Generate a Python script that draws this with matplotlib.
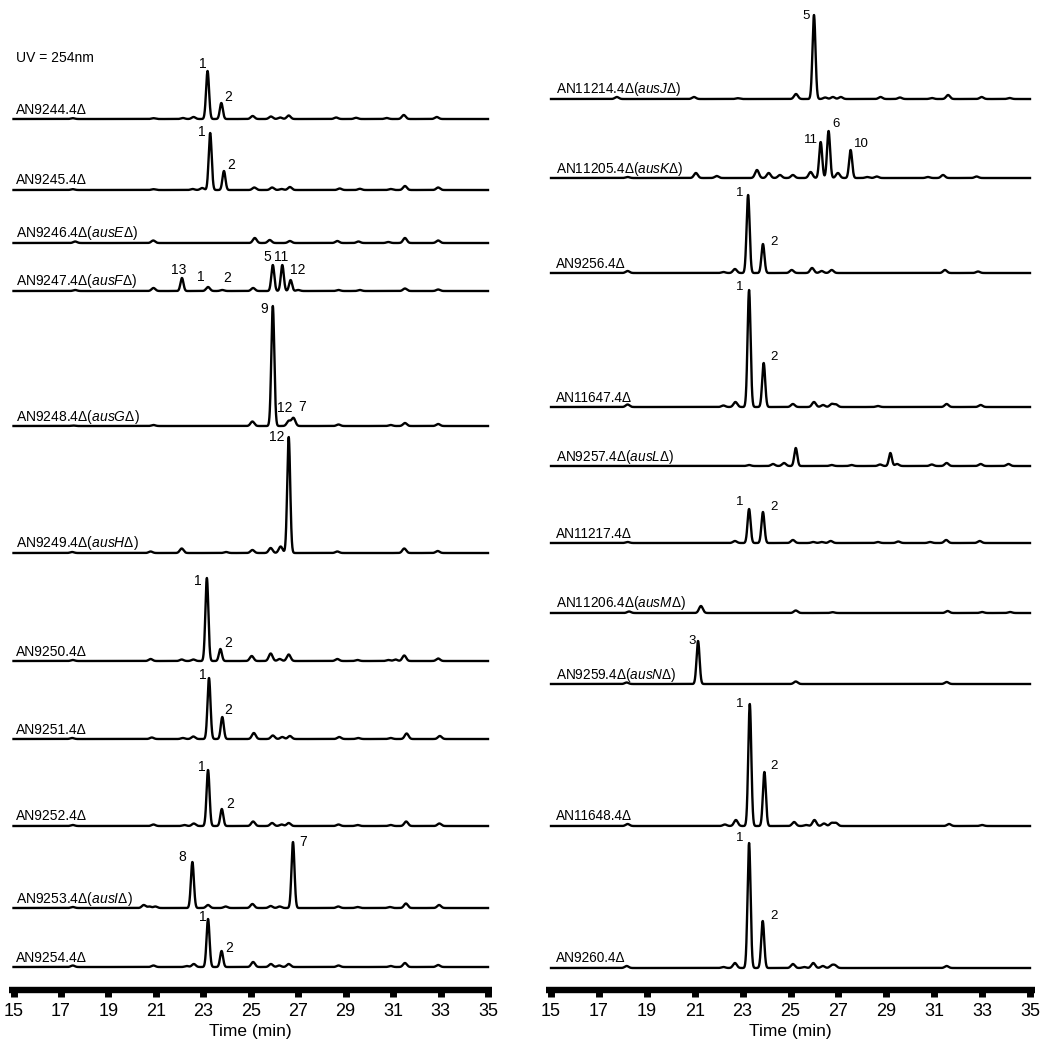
import numpy as np
import matplotlib
matplotlib.use("Agg")
import matplotlib.pyplot as plt

plt.rcParams['font.family'] = ['Liberation Sans', 'DejaVu Sans']
plt.rcParams['mathtext.fontset'] = 'custom'
plt.rcParams['mathtext.rm'] = 'Liberation Sans'
plt.rcParams['mathtext.it'] = 'Liberation Sans:italic'

# ---------------- data: (retention time [min], peak height [a.u.]) ----------------
tick_values = [15, 17, 19, 21, 23, 25, 27, 29, 31, 33, 35]
x_label = "Time (min)"
uv_label = "UV = 254nm"

# left panel
peaks_AN9244 = [(23.18, 48), (23.76, 16), (17.5, 0.8), (20.9, 0.8), (22.14, 1), (22.59, 2), (25.08, 3),
                (25.85, 2.5), (26.24, 1.5), (26.6, 3.5), (28.6, 1.5), (29.44, 1.2), (30.73, 1), (31.45, 4), (32.84, 2)]
peaks_AN9245 = [(23.29, 57), (23.87, 19), (17.5, 0.8), (20.9, 0.8), (22.55, 1), (22.95, 2), (25.15, 2.5),
                (25.9, 2.5), (26.3, 1), (26.65, 3), (28.75, 1.5), (29.6, 1.2), (30.9, 1), (31.5, 4), (32.9, 2.5)]
peaks_AN9246 = [(17.6, 1.5), (20.89, 2.5), (25.17, 5), (25.8, 3), (26.65, 2), (28.65, 2), (29.54, 1.5),
                (30.8, 1), (31.5, 5), (32.9, 2.5)]
peaks_AN9247 = [(22.1, 13), (23.2, 4), (23.8, 1), (25.93, 26), (26.33, 26), (26.68, 11), (17.6, 1), (20.9, 3),
                (25.1, 3), (27.0, 1), (28.7, 1), (29.6, 1), (31.5, 2.5), (32.9, 1.5)]
peaks_AN9248 = [(25.93, 120), (26.6, 5), (26.8, 8), (17.5, 0.5), (20.9, 1), (25.07, 4.5), (28.7, 1.5),
                (30.9, 1), (31.5, 3), (32.9, 2)]
peaks_AN9249 = [(26.6, 116), (17.47, 1), (20.78, 1.5), (22.09, 4.5), (23.96, 1), (25.07, 3), (25.84, 5),
                (26.26, 6.5), (28.65, 1.5), (31.47, 4.5), (32.88, 2)]
peaks_AN9250 = [(23.15, 83), (23.72, 12), (17.5, 1), (20.78, 2), (22.09, 1.5), (22.58, 1.5), (25.04, 5),
                (25.84, 7.5), (26.22, 2), (26.6, 6.5), (28.65, 2), (29.5, 1), (30.8, 1), (31.1, 1.5),
                (31.47, 5.5), (32.9, 2.5)]
peaks_AN9251 = [(23.24, 61), (23.8, 22), (17.47, 1), (20.83, 1.5), (22.14, 1), (22.58, 2.5), (25.13, 6),
                (25.93, 3.5), (26.33, 2), (26.65, 3), (28.73, 2), (29.53, 1), (30.9, 1), (31.57, 5.5), (32.97, 3)]
peaks_AN9252 = [(23.2, 56), (23.78, 17), (17.5, 1), (20.9, 1.5), (22.2, 1), (22.6, 2.5), (25.1, 4.5),
                (25.9, 3), (26.3, 1.5), (26.6, 3), (28.7, 1.5), (29.5, 1), (30.9, 1), (31.55, 4.5), (32.95, 2.5)]
peaks_AN9253 = [(22.54, 46), (26.78, 66), (17.5, 1), (20.49, 3), (20.73, 1.5), (20.98, 1.5), (23.2, 3),
                (23.94, 1.5), (25.07, 4), (25.84, 2), (26.22, 1.5), (28.69, 1.5), (29.5, 1), (30.86, 1),
                (31.54, 4.5), (32.94, 3)]
peaks_AN9254 = [(23.2, 48), (23.77, 16), (17.5, 1.5), (20.9, 1.5), (22.3, 1), (22.6, 3), (25.1, 5),
                (25.85, 3), (26.2, 1.5), (26.6, 3), (28.7, 1.5), (30.9, 1), (31.5, 4), (32.9, 2)]

# right panel
peaks_AN11214 = [(25.98, 84), (17.75, 2), (20.97, 2), (22.8, 0.8), (25.23, 5), (26.45, 1.5), (26.77, 2),
                 (27.1, 2), (28.76, 2), (29.57, 1.5), (30.9, 1), (31.58, 4), (32.98, 2), (34.15, 1)]
peaks_AN11205 = [(26.26, 36), (26.59, 47), (27.51, 28), (18.2, 1), (21.05, 5), (21.92, 2), (23.6, 8),
                 (24.09, 5), (24.56, 3), (25.1, 3), (25.84, 6), (26.98, 5), (28.2, 1), (28.6, 1.5),
                 (30.74, 1), (31.37, 3), (32.77, 1.5)]
peaks_AN9256 = [(23.23, 78), (23.85, 29), (18.2, 2), (22.2, 1), (22.68, 4), (25.05, 3), (25.9, 5),
                (26.3, 2), (26.72, 3), (31.45, 3), (32.83, 1.5)]
peaks_AN11647 = [(23.27, 117), (23.88, 44), (18.2, 2.5), (22.2, 1.5), (22.7, 5), (25.1, 3), (25.98, 5),
                 (26.36, 2), (26.72, 3), (26.9, 2.5), (28.65, 1), (31.52, 3), (32.94, 2)]
peaks_AN9257 = [(25.22, 18), (29.17, 13), (23.27, 1), (24.27, 2), (24.73, 3), (26.72, 1), (27.55, 1),
                (28.74, 1.5), (29.45, 2), (30.9, 1.5), (31.52, 3), (32.94, 2), (34.1, 2)]
peaks_AN11217 = [(23.27, 34), (23.85, 31), (18.2, 1), (22.68, 2), (25.1, 3), (25.95, 1), (26.3, 1),
                 (26.68, 2), (28.65, 1), (29.5, 1.5), (30.83, 1), (31.5, 3), (32.9, 2)]
peaks_AN11206 = [(21.26, 7), (18.26, 1.5), (25.22, 2.5), (26.76, 0.8), (31.56, 2), (33.0, 1), (34.17, 1)]
peaks_AN9259 = [(21.14, 43), (18.16, 1.5), (25.22, 2.5), (31.52, 2)]
peaks_AN11648 = [(23.3, 122), (23.91, 54), (18.2, 2), (22.26, 1.5), (22.72, 6), (25.15, 4), (25.65, 1),
                 (26.0, 6), (26.4, 2.5), (26.72, 3), (26.9, 3), (31.62, 2), (33.0, 1)]
peaks_AN9260 = [(23.27, 125), (23.84, 47), (18.16, 2), (22.2, 1), (22.68, 5), (25.1, 4), (25.57, 1),
                (25.95, 5), (26.35, 2), (26.72, 2.5), (26.86, 2.5), (31.52, 2)]

# trace names: (prefix, italic gene or None)
names_left = [("AN9244.4Δ", None), ("AN9245.4Δ", None), ("AN9246.4Δ", "ausE"), ("AN9247.4Δ", "ausF"),
              ("AN9248.4Δ", "ausG"), ("AN9249.4Δ", "ausH"), ("AN9250.4Δ", None), ("AN9251.4Δ", None),
              ("AN9252.4Δ", None), ("AN9253.4Δ", "ausI"), ("AN9254.4Δ", None)]
names_right = [("AN11214.4Δ", "ausJ"), ("AN11205.4Δ", "ausK"), ("AN9256.4Δ", None), ("AN11647.4Δ", None),
               ("AN9257.4Δ", "ausL"), ("AN11217.4Δ", None), ("AN11206.4Δ", "ausM"), ("AN9259.4Δ", "ausN"),
               ("AN11648.4Δ", None), ("AN9260.4Δ", None)]
peaks_left = [peaks_AN9244, peaks_AN9245, peaks_AN9246, peaks_AN9247, peaks_AN9248, peaks_AN9249,
              peaks_AN9250, peaks_AN9251, peaks_AN9252, peaks_AN9253, peaks_AN9254]
peaks_right = [peaks_AN11214, peaks_AN11205, peaks_AN9256, peaks_AN11647, peaks_AN9257, peaks_AN11217,
               peaks_AN11206, peaks_AN9259, peaks_AN11648, peaks_AN9260]

# compound labels: (text, peak index)
cmp_left = [[("1", 0), ("2", 1)], [("1", 0), ("2", 1)], [],
            [("13", 0), ("1", 1), ("2", 2), ("5", 3), ("11", 4), ("12", 5)],
            [("9", 0), ("12", 1), ("7", 2)], [("12", 0)], [("1", 0), ("2", 1)], [("1", 0), ("2", 1)],
            [("1", 0), ("2", 1)], [("8", 0), ("7", 1)], [("1", 0), ("2", 1)]]
cmp_right = [[("5", 0)], [("11", 0), ("6", 1), ("10", 2)], [("1", 0), ("2", 1)], [("1", 0), ("2", 1)], [],
             [("1", 0), ("2", 1)], [], [("3", 0)], [("1", 0), ("2", 1)], [("1", 0), ("2", 1)]]

# ---------------- layout (pixels in a 1044 x 1042 image) ----------------
W, H = 1044, 1042
AX_BOTTOM = 990
base_left = [119, 190, 243, 291, 426, 553, 661, 739, 826, 908, 967]
base_right = [99, 178, 273, 407, 466, 543, 613, 684, 826, 968]
lab_off_left = [[(-5, -7), (7, -6)], [(-8, -1), (7, -6)], [],
                [(-3, -8), (-7, -10), (5, -12), (-6, -8), (-1, -8), (7, -10)],
                [(-9, 3), (-4, -13), (9, -11)], [(-12, 0)], [(-9, 3), (8, -6)], [(-6, -3), (6, -7)],
                [(-6, -3), (8, -5)], [(-10, -5), (10, 0)], [(-5, -2), (8, -3)]]
lab_off_right = [[(-8, 1)], [(-10, -2), (7, -7), (11, -6)], [(-8, -2), (11, -2)], [(-9, -3), (10, -6)], [],
                 [(-9, -7), (11, -5)], [], [(-6, 0)], [(-10, 0), (10, -6)], [(-9, -5), (11, -5)]]

fig = plt.figure(figsize=(W / 100, H / 100), dpi=100)


def make_axes(px_left, px_right, px15, px35):
    scale = (px35 - px15) / 20.0
    ax = fig.add_axes([px_left / W, 1 - AX_BOTTOM / H, (px_right - px_left) / W, AX_BOTTOM / H])
    ax.set_xlim(15 - (px15 - px_left) / scale, 35 + (px_right - px35) / scale)
    ax.set_ylim(0, AX_BOTTOM)
    for s in ("top", "left", "right"):
        ax.spines[s].set_visible(False)
    ax.spines["bottom"].set_linewidth(4.6)
    ax.spines["bottom"].set_capstyle("butt")
    ax.set_yticks([])
    ax.set_xticks(tick_values)
    ax.set_xticklabels([str(v) for v in tick_values])
    ax.tick_params(axis="x", direction="out", length=5.2, width=5, pad=4, labelsize=13)
    ax.set_xlabel(x_label, fontsize=12.5, labelpad=3)
    ax.patch.set_alpha(0)
    return ax


def draw_panel(ax, names, peaks, bases, cmps, offs, label_x, name_fs, peak_fs):
    t = np.linspace(15, 35, 5000)
    for (prefix, gene), pk, base, cl, of in zip(names, peaks, bases, cmps, offs):
        y0 = AX_BOTTOM - base
        sig = np.zeros_like(t)
        for rt, h in pk:
            s = 0.063 if h >= 10 else 0.08
            sig += h * np.exp(-0.5 * ((t - rt) / s) ** 2)
        ax.plot(t, y0 + sig, color="black", lw=1.7, solid_joinstyle="round")
        txt = prefix if gene is None else prefix + "(" + r"$\mathit{" + gene + "}$" + "Δ)"
        ax.text(label_x, y0 + 5.5, txt, fontsize=name_fs, ha="left", va="baseline")
        for (lab, idx), (dx, dy) in zip(cl, of):
            rt, h = pk[idx]
            ax.annotate(lab, xy=(rt, y0 + h), xytext=(dx, -dy), textcoords="offset pixels",
                        ha="center", va="center", fontsize=peak_fs)


axL = make_axes(9, 492, 13.5, 488)
axR = make_axes(546, 1035, 551, 1030)
draw_panel(axL, names_left, peaks_left, base_left, cmp_left, lab_off_left, 15.1, 10, 10)
draw_panel(axR, names_right, peaks_right, base_right, cmp_right, lab_off_right, 15.2, 9.8, 9.5)
axL.text(15.1, AX_BOTTOM - 58, uv_label, fontsize=10, ha="left", va="center")

fig.savefig("out.png", dpi=100)
